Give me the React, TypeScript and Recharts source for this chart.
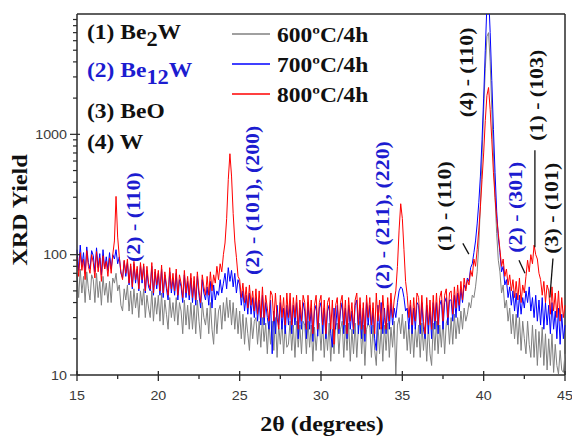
import { Legend, Line, LineChart, ReferenceDot, ReferenceLine, XAxis, YAxis } from "recharts";

// 2-theta grid: 15.0 .. 45.0 every 0.1 degree, one row per degree
const THETA_START = 15;
const THETA_STEP = 0.1;

const YIELD_600 = [
  70, 44, 76, 48, 66, 40, 72, 52, 42, 68,
  62, 40, 70, 44, 60, 38, 66, 46, 58, 40,
  60, 40, 64, 58, 70, 50, 56, 38, 34, 52,
  42, 56, 34, 50, 32, 52, 36, 48, 30, 50,
  38, 52, 30, 46, 36, 30, 50, 28, 44, 32,
  46, 28, 48, 26, 42, 32, 24, 44, 30, 40,
  28, 44, 26, 40, 34, 22, 42, 26, 38, 24,
  40, 24, 38, 22, 42, 28, 20, 40, 30, 26,
  36, 22, 40, 24, 18, 36, 22, 34, 38, 24,
  40, 28, 44, 30, 42, 26, 40, 24, 36, 22,
  34, 20, 32, 18, 30, 22, 16, 30, 20, 28,
  30, 18, 28, 17, 30, 19, 27, 15, 28, 18,
  28, 16, 30, 14, 26, 18, 28, 15, 26, 17,
  18, 28, 16, 26, 14, 28, 17, 26, 15, 28,
  26, 15, 28, 17, 26, 13, 25, 16, 24, 27,
  16, 28, 14, 25, 16, 27, 13, 24, 15, 26,
  27, 15, 24, 28, 14, 26, 16, 27, 13, 24,
  15, 27, 14, 25, 28, 15, 26, 12, 24, 27,
  25, 14, 26, 16, 12, 27, 15, 25, 13, 26,
  16, 27, 14, 25, 17, 28, 10, 26, 30, 22,
  32, 20, 28, 16, 26, 15, 27, 14, 25, 17,
  26, 14, 27, 16, 25, 13, 26, 15, 12, 27,
  16, 28, 15, 26, 17, 29, 15, 27, 30, 18,
  30, 18, 32, 20, 30, 22, 34, 24, 36, 28,
  32, 40, 36, 46, 44, 54, 72, 120, 260, 650,
  1600, 3500, 6500, 7000, 4000, 1600, 700, 300, 150, 90,
  72, 48, 56, 36, 42, 28, 36, 22, 32, 20,
  32, 18, 30, 16, 28, 20, 15, 28, 18, 14,
  26, 14, 24, 12, 23, 14, 25, 12, 22, 11,
  20, 12, 22, 10.5, 18, 12, 10.2, 16, 11, 10.5,
  15,
];

const YIELD_700 = [
  110, 74, 120, 80, 104, 70, 116, 86, 76, 108,
  98, 72, 114, 78, 102, 68, 110, 76, 96, 74,
  104, 76, 100, 92, 110, 84, 96, 70, 64, 88,
  66, 86, 56, 80, 52, 84, 58, 76, 50, 82,
  58, 80, 48, 74, 54, 50, 80, 46, 72, 52,
  70, 46, 76, 44, 68, 52, 42, 72, 48, 64,
  46, 70, 42, 62, 54, 40, 68, 44, 60, 42,
  64, 40, 60, 38, 66, 46, 36, 62, 48, 42,
  54, 38, 60, 36, 56, 42, 50, 46, 62, 48,
  58, 70, 52, 78, 60, 74, 54, 70, 48, 62,
  56, 38, 50, 34, 46, 32, 48, 32, 44, 30,
  44, 28, 42, 26, 46, 26, 40, 30, 24, 42,
  15, 34, 22, 38, 26, 40, 24, 36, 22, 38,
  26, 40, 22, 38, 26, 40, 20, 36, 24, 40,
  34, 20, 40, 24, 36, 19, 34, 38, 21, 36,
  40, 22, 36, 20, 34, 38, 22, 17, 36, 24,
  38, 22, 34, 40, 22, 36, 20, 38, 24, 34,
  22, 38, 42, 22, 38, 20, 36, 19, 40, 26,
  38, 22, 36, 20, 16, 38, 24, 40, 22, 36,
  22, 38, 24, 40, 26, 36, 30, 40, 50, 54,
  52, 44, 34, 36, 24, 38, 22, 36, 24, 40,
  38, 22, 40, 24, 20, 38, 22, 36, 20, 40,
  24, 40, 22, 38, 42, 24, 40, 44, 26, 42,
  42, 28, 46, 30, 48, 34, 52, 40, 56, 52,
  64, 60, 78, 84, 104, 130, 180, 270, 450, 900,
  2000, 5000, 12000, 15000, 7000, 2800, 1100, 480, 230, 140,
  104, 72, 80, 56, 62, 44, 54, 38, 50, 34,
  48, 30, 46, 32, 44, 36, 50, 40, 54, 34,
  44, 30, 46, 28, 42, 26, 44, 24, 40, 26,
  38, 22, 40, 24, 34, 20, 36, 18, 32, 20,
  26,
];

const YIELD_800 = [
  96, 66, 104, 74, 92, 62, 108, 80, 70, 100,
  86, 64, 106, 72, 94, 60, 98, 76, 88, 66,
  94, 70, 100, 130, 305, 140, 96, 72, 62, 90,
  70, 92, 58, 84, 54, 88, 62, 80, 52, 86,
  62, 84, 50, 80, 58, 52, 86, 48, 76, 56,
  74, 50, 82, 48, 72, 56, 46, 78, 52, 70,
  50, 76, 46, 68, 58, 44, 74, 48, 66, 46,
  70, 44, 66, 42, 72, 50, 40, 68, 54, 46,
  66, 46, 72, 50, 68, 58, 80, 62, 84, 72,
  100, 125, 200, 420, 690, 450, 220, 130, 95, 66,
  62, 44, 58, 40, 54, 36, 56, 38, 50, 34,
  52, 32, 50, 30, 54, 30, 46, 36, 28, 50,
  46, 28, 48, 30, 24, 46, 30, 44, 26, 48,
  30, 48, 26, 44, 30, 46, 24, 42, 28, 46,
  40, 24, 46, 28, 42, 22, 38, 46, 24, 40,
  46, 26, 42, 22, 40, 44, 24, 42, 18, 38,
  44, 24, 40, 46, 26, 42, 22, 44, 28, 40,
  24, 42, 48, 26, 44, 24, 40, 22, 46, 30,
  44, 26, 40, 22, 48, 28, 42, 24, 46, 30,
  24, 44, 28, 48, 30, 42, 50, 80, 160, 265,
  200, 110, 60, 46, 30, 42, 26, 44, 28, 48,
  44, 26, 46, 28, 22, 44, 26, 42, 24, 46,
  28, 48, 26, 44, 50, 28, 46, 52, 30, 48,
  50, 32, 54, 36, 56, 38, 60, 42, 64, 50,
  62, 56, 74, 66, 92, 80, 110, 160, 250, 420,
  700, 1300, 2100, 2450, 1600, 900, 480, 300, 200, 150,
  110, 80, 92, 66, 76, 56, 68, 50, 62, 44,
  60, 42, 64, 40, 56, 48, 66, 90, 72, 100,
  84, 120, 100, 92, 70, 62, 46, 60, 40, 56,
  50, 32, 54, 34, 48, 30, 50, 28, 44, 30,
  38,
];

const X_MAJOR = [15, 20, 25, 30, 35, 40, 45];
const X_TICKS = [15, 17.5, 20, 22.5, 25, 27.5, 30, 32.5, 35, 37.5, 40, 42.5, 45];
const Y_MAJOR = [10, 100, 1000];
const Y_TICKS = [
  10, 20, 30, 40, 50, 60, 70, 80, 90,
  100, 200, 300, 400, 500, 600, 700, 800, 900,
  1000, 2000, 3000, 4000, 5000, 6000, 7000, 8000, 9000,
];

const SERIES = [
  { key: "y600", name: "600ºC/4h", color: "#808080" },
  { key: "y700", name: "700ºC/4h", color: "#0000ff" },
  { key: "y800", name: "800ºC/4h", color: "#ff0000" },
];

const INK = "#111111";
const NOTE_BLUE = "#1c1cd0";
const AXIS = "#2a2a2a";
const SERIF = '"Liberation Serif", "Times New Roman", serif';
const SANS = '"Liberation Sans", Arial, sans-serif';

const PHASES = [
  { tag: "(1)", base: "Be", sub: "2", tail: "W", color: INK },
  { tag: "(2)", base: "Be", sub: "12", tail: "W", color: NOTE_BLUE },
  { tag: "(3)", base: "BeO", sub: "", tail: "", color: INK },
  { tag: "(4)", base: "W", sub: "", tail: "", color: INK },
];
const PHASE_BASELINES = [39, 77, 118, 149];

// peak labels, anchored at (2θ, yield) of the text centre
const PEAK_NOTES = [
  { text: "(2) - (110)", x: 18.5, y: 205, color: NOTE_BLUE },
  { text: "(2) - (101), (200)", x: 25.76, y: 283, color: NOTE_BLUE },
  { text: "(2) - (211), (220)", x: 33.81, y: 213, color: NOTE_BLUE },
  { text: "(1) - (110)", x: 37.62, y: 253, color: INK },
  { text: "(4) - (110)", x: 38.97, y: 3270, color: INK },
  { text: "(2) - (301)", x: 41.98, y: 248, color: NOTE_BLUE },
  { text: "(1) - (103)", x: 43.27, y: 2110, color: INK },
  { text: "(3) - (101)", x: 44.19, y: 243, color: INK },
];

const LEADERS = [
  [{ x: 38.72, y: 124 }, { x: 39.09, y: 101 }],
  [{ x: 42.17, y: 90 }, { x: 42.54, y: 70 }],
  [{ x: 43.15, y: 736 }, { x: 43.15, y: 115 }],
  [{ x: 44.26, y: 93 }, { x: 44.07, y: 44 }],
];

const data = YIELD_600.map((v, i) => ({
  theta: +(THETA_START + i * THETA_STEP).toFixed(1),
  y600: v,
  y700: YIELD_700[i],
  y800: YIELD_800[i],
}));

const XTick = ({ x, y, payload }: any) => {
  const major = X_MAJOR.includes(payload.value);
  return (
    <g>
      <line x1={x} x2={x} y1={major ? y - 4 : y} y2={y + (major ? 6 : 4)} stroke={AXIS} strokeWidth={1.3} />
      {major && (
        <text
          transform={`translate(${x},${y + 25}) scale(1.1,1)`}
          textAnchor="middle"
          fontFamily={SANS}
          fontSize={13}
          fill="#3a3a3a"
        >
          {payload.value}
        </text>
      )}
    </g>
  );
};

const YTick = ({ x, y, payload }: any) => {
  const major = Y_MAJOR.includes(payload.value);
  return (
    <g>
      <line x1={x - (major ? 7 : 4)} x2={x + (major ? 3 : 0)} y1={y} y2={y} stroke={AXIS} strokeWidth={1.2} />
      {major && (
        <text
          transform={`translate(${x - 10},${y + 4.5}) scale(1.1,1)`}
          textAnchor="end"
          fontFamily={SANS}
          fontSize={13}
          fill="#3a3a3a"
        >
          {payload.value}
        </text>
      )}
    </g>
  );
};

const SeriesLegend = ({ payload }: any) => (
  <svg width={160} height={100}>
    {(payload ?? []).map((item: any, i: number) => {
      const ly = 16 + i * 30;
      return (
        <g key={item.value}>
          <line x1={4} x2={42} y1={ly} y2={ly} stroke={item.color} strokeWidth={1.5} />
          <text
            transform={`translate(49,${ly + 7.5}) scale(1.12,1)`}
            fontFamily={SERIF}
            fontWeight="bold"
            fontSize={21}
            fill={INK}
          >
            {item.value}
          </text>
        </g>
      );
    })}
  </svg>
);

const noteShape = (note: (typeof PEAK_NOTES)[number]) => (p: any) => (
  <text
    transform={`translate(${p.cx},${p.cy}) rotate(-90) scale(1.15,1)`}
    textAnchor="middle"
    dominantBaseline="central"
    fontFamily={SERIF}
    fontWeight="bold"
    fontSize={19}
    fill={note.color}
  >
    {note.text}
  </text>
);

export default function App() {
  return (
    <div style={{ position: "absolute", left: 0, top: 0, width: 572, height: 437, background: "#fff" }}>
      <LineChart width={572} height={437} data={data} margin={{ top: 14, right: 7, bottom: 0, left: 0 }}>
        <XAxis
          dataKey="theta"
          type="number"
          domain={[15, 45]}
          ticks={X_TICKS}
          interval={0}
          height={62}
          tickSize={0}
          tickMargin={0}
          tickLine={false}
          tick={<XTick />}
          axisLine={{ stroke: AXIS, strokeWidth: 1.5 }}
        />
        <YAxis
          type="number"
          scale="log"
          domain={[10, 10000]}
          allowDataOverflow
          ticks={Y_TICKS}
          interval={0}
          width={77}
          tickSize={0}
          tickMargin={0}
          tickLine={false}
          tick={<YTick />}
          axisLine={{ stroke: AXIS, strokeWidth: 1.5 }}
        />
        <ReferenceLine y={10000} stroke={AXIS} strokeWidth={1.5} ifOverflow="visible" />
        <ReferenceLine x={45} stroke={AXIS} strokeWidth={1.5} ifOverflow="visible" />
        {SERIES.map((s) => (
          <Line
            key={s.key}
            type="linear"
            dataKey={s.key}
            name={s.name}
            stroke={s.color}
            strokeWidth={1}
            dot={false}
            activeDot={false}
            isAnimationActive={false}
          />
        ))}
        {LEADERS.map((seg, i) => (
          <ReferenceLine key={`lead-${i}`} segment={seg} stroke={INK} strokeWidth={1.3} ifOverflow="visible" />
        ))}
        {PEAK_NOTES.map((note) => (
          <ReferenceDot
            key={note.text + note.x}
            x={note.x}
            y={note.y}
            r={1}
            ifOverflow="visible"
            shape={noteShape(note)}
          />
        ))}
        <Legend
          layout="vertical"
          align="center"
          verticalAlign="middle"
          content={<SeriesLegend />}
          wrapperStyle={{ left: 228, top: 18, width: 160, height: 100 }}
        />
        <g>
          {PHASES.map((ph, i) => (
            <text
              key={ph.tag}
              transform={`translate(87,${PHASE_BASELINES[i]}) scale(1.12,1)`}
              fontFamily={SERIF}
              fontWeight="bold"
              fontSize={21}
              fill={ph.color}
            >
              {`${ph.tag} ${ph.base}`}
              {ph.sub && (
                <tspan dy={7} fontSize={20}>
                  {ph.sub}
                </tspan>
              )}
              {ph.tail && <tspan dy={-7}>{ph.tail}</tspan>}
            </text>
          ))}
          <text
            transform="translate(20,210) rotate(-90) scale(1.15,1)"
            textAnchor="middle"
            dominantBaseline="central"
            fontFamily={SERIF}
            fontWeight="bold"
            fontSize={21}
            fill={INK}
          >
            XRD Yield
          </text>
          <text
            transform="translate(322,431) scale(1.2,1)"
            textAnchor="middle"
            fontFamily={SERIF}
            fontWeight="bold"
            fontSize={20}
            fill={INK}
          >
            2θ (degrees)
          </text>
        </g>
      </LineChart>
    </div>
  );
}
